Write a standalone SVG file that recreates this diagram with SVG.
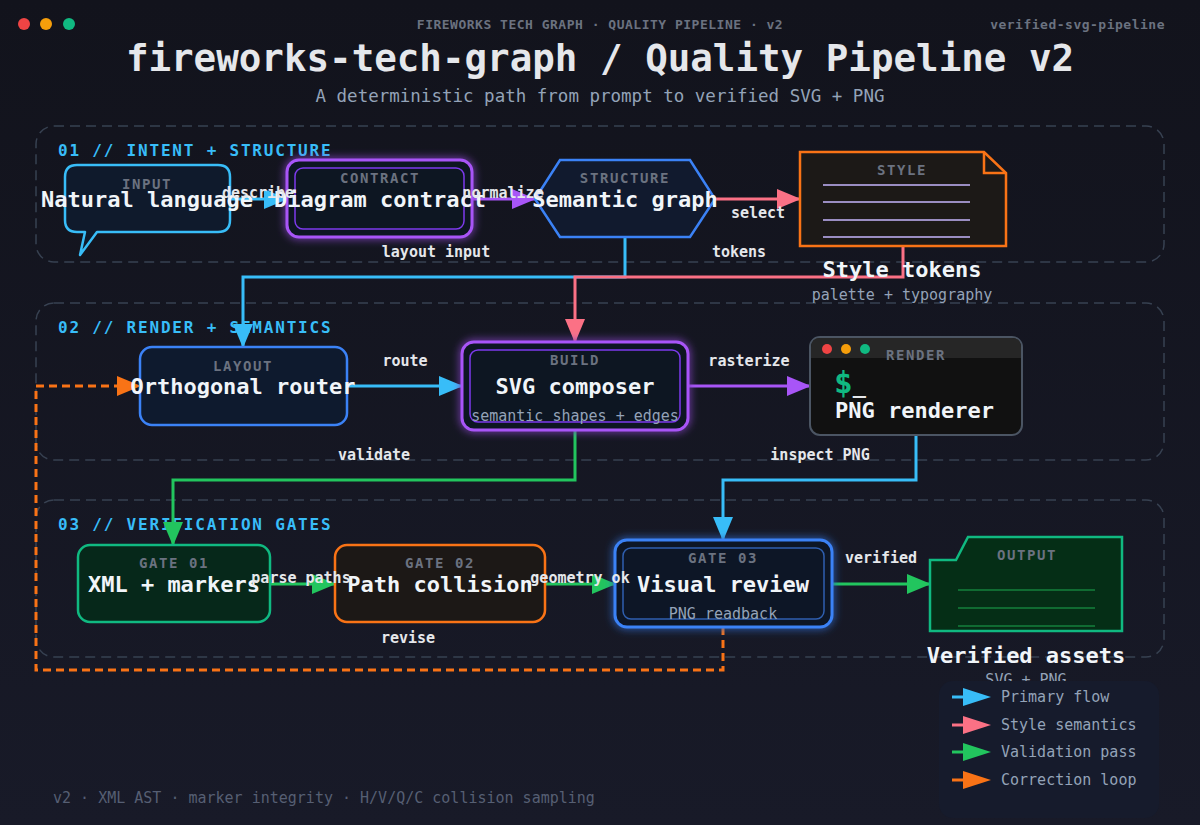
<svg xmlns="http://www.w3.org/2000/svg" width="1200" height="825" viewBox="0 0 1200 825">
<defs>
<linearGradient id="bg" x1="0" y1="0" x2="0" y2="1">
<stop offset="0" stop-color="#12131c"/>
<stop offset="1" stop-color="#181a28"/>
</linearGradient>
<filter id="glow" x="-20%" y="-30%" width="140%" height="160%">
<feGaussianBlur in="SourceGraphic" stdDeviation="4" result="b"/>
<feMerge><feMergeNode in="b"/><feMergeNode in="SourceGraphic"/></feMerge>
</filter>
<marker id="aBlue" viewBox="0 0 24 20" markerWidth="24" markerHeight="20" refX="23" refY="10" orient="auto" markerUnits="userSpaceOnUse"><path d="M0,0 L24,10 L0,20 Z" fill="#38bdf8"/></marker>
<marker id="aPurple" viewBox="0 0 24 20" markerWidth="24" markerHeight="20" refX="23" refY="10" orient="auto" markerUnits="userSpaceOnUse"><path d="M0,0 L24,10 L0,20 Z" fill="#a855f7"/></marker>
<marker id="aPink" viewBox="0 0 24 20" markerWidth="24" markerHeight="20" refX="23" refY="10" orient="auto" markerUnits="userSpaceOnUse"><path d="M0,0 L24,10 L0,20 Z" fill="#fb7185"/></marker>
<marker id="aGreen" viewBox="0 0 24 20" markerWidth="24" markerHeight="20" refX="23" refY="10" orient="auto" markerUnits="userSpaceOnUse"><path d="M0,0 L24,10 L0,20 Z" fill="#22c55e"/></marker>
<marker id="aOrange" viewBox="0 0 24 20" markerWidth="24" markerHeight="20" refX="23" refY="10" orient="auto" markerUnits="userSpaceOnUse"><path d="M0,0 L24,10 L0,20 Z" fill="#f97316"/></marker>
</defs>
<style>
text{font-family:"DejaVu Sans Mono","Liberation Mono",monospace;}
.hdr{font-size:13px;font-weight:bold;fill:#6b7280;letter-spacing:0.5px;}
.title{font-size:37.5px;font-weight:bold;fill:#e5e7eb;}
.sub{font-size:17.5px;fill:#94a3b8;}
.sec{fill:none;stroke:#374151;stroke-width:1.5;stroke-dasharray:10 6;}
.seclbl{font-size:16px;font-weight:bold;fill:#38bdf8;letter-spacing:1.8px;}
.cat{font-size:14px;font-weight:bold;fill:#6b7280;letter-spacing:1.6px;text-anchor:middle;}
.main{font-size:22px;font-weight:bold;fill:#f1f5f9;text-anchor:middle;}
.note{font-size:15px;fill:#94a3b8;text-anchor:middle;}
.elbl{font-size:15px;font-weight:bold;fill:#e5e7eb;text-anchor:middle;}
.edge{fill:none;stroke-width:3;}
.leg{font-size:15px;fill:#94a3b8;}
</style>
<rect x="0" y="0" width="1200" height="825" fill="url(#bg)"/>
<g id="header">
<circle cx="24" cy="24" r="6" fill="#ef4444"/>
<circle cx="46" cy="24" r="6" fill="#f59e0b"/>
<circle cx="69" cy="24" r="6" fill="#10b981"/>
<text class="hdr" x="600" y="29" text-anchor="middle">FIREWORKS TECH GRAPH · QUALITY PIPELINE · v2</text>
<text class="hdr" x="1165" y="29" text-anchor="end">verified-svg-pipeline</text>
<text class="title" x="600" y="71" text-anchor="middle">fireworks-tech-graph / Quality Pipeline v2</text>
<text class="sub" x="600" y="102" text-anchor="middle">A deterministic path from prompt to verified SVG + PNG</text>
</g>
<g id="sections">
<rect class="sec" x="36" y="126" width="1128" height="136" rx="18"/>
<rect class="sec" x="36" y="303" width="1128" height="157" rx="18"/>
<rect class="sec" x="36" y="500" width="1128" height="157" rx="18"/>
<text class="seclbl" x="58" y="156">01 // INTENT + STRUCTURE</text>
<text class="seclbl" x="58" y="333">02 // RENDER + SEMANTICS</text>
<text class="seclbl" x="58" y="530">03 // VERIFICATION GATES</text>
</g>
<g id="connectors">
<path class="edge" stroke="#38bdf8" d="M230,199 L287,199" marker-end="url(#aBlue)"/>
<path class="edge" stroke="#a855f7" d="M472,199 L535,199" marker-end="url(#aPurple)"/>
<path class="edge" stroke="#fb7185" d="M715,199 L800,199" marker-end="url(#aPink)"/>
<path class="edge" stroke="#38bdf8" d="M625,237 L625,277 L243,277 L243,347" marker-end="url(#aBlue)"/>
<path class="edge" stroke="#fb7185" d="M903,246 L903,277 L575,277 L575,342" marker-end="url(#aPink)"/>
<path class="edge" stroke="#38bdf8" d="M347,386 L462,386" marker-end="url(#aBlue)"/>
<path class="edge" stroke="#a855f7" d="M688,386 L810,386" marker-end="url(#aPurple)"/>
<path class="edge" stroke="#22c55e" d="M575,430 L575,480 L173,480 L173,545" marker-end="url(#aGreen)"/>
<path class="edge" stroke="#38bdf8" d="M916,435 L916,480 L723,480 L723,540" marker-end="url(#aBlue)"/>
<path class="edge" stroke="#22c55e" d="M270,584 L335,584" marker-end="url(#aGreen)"/>
<path class="edge" stroke="#22c55e" d="M545,584 L615,584" marker-end="url(#aGreen)"/>
<path class="edge" stroke="#22c55e" d="M832,584 L930,584" marker-end="url(#aGreen)"/>
<path class="edge" stroke="#f97316" stroke-dasharray="8 5" d="M723,627 L723,670 L36,670 L36,386 L140,386" marker-end="url(#aOrange)"/>
</g>
<g id="node-input">
<path d="M77,165 L218,165 Q230,165 230,177 L230,220 Q230,232 218,232 L97,232 L80,255 L85,232 L77,232 Q65,232 65,220 L65,177 Q65,165 77,165 Z" fill="#0f1a2c" stroke="#38bdf8" stroke-width="2.5" stroke-linejoin="round"/>
<text class="cat" x="147" y="189">INPUT</text>
<text class="main" x="147" y="207">Natural language</text>
</g>
<g id="node-contract">
<rect x="287" y="160" width="185" height="77" rx="12" fill="#0f1424" stroke="#a855f7" stroke-width="3" filter="url(#glow)"/>
<rect x="295" y="168" width="169" height="61" rx="8" fill="none" stroke="#7c3aed" stroke-width="1.5"/>
<text class="cat" x="380" y="183">CONTRACT</text>
<text class="main" x="380" y="207">Diagram contract</text>
</g>
<g id="node-structure">
<polygon points="560,160 690,160 715,199 690,237 560,237 535,199" fill="#111a2e" stroke="#3b82f6" stroke-width="2.5"/>
<text class="cat" x="625" y="183">STRUCTURE</text>
<text class="main" x="625" y="207">Semantic graph</text>
</g>
<g id="node-style">
<path d="M800,152 L984,152 L1006,173 L1006,246 L800,246 Z" fill="#1c1917" stroke="#f97316" stroke-width="2.5"/>
<path d="M984,152 L984,173 L1006,173" fill="none" stroke="#f97316" stroke-width="2.5"/>
<text class="cat" x="902" y="175">STYLE</text>
<g stroke="#c4b5fd" stroke-width="1.5">
<line x1="823" y1="185" x2="970" y2="185"/>
<line x1="823" y1="202" x2="970" y2="202"/>
<line x1="823" y1="220" x2="970" y2="220"/>
<line x1="823" y1="237" x2="970" y2="237"/>
</g>
<text class="main" x="902" y="277">Style tokens</text>
<text class="note" x="902" y="300">palette + typography</text>
</g>
<g id="node-layout">
<rect x="140" y="347" width="207" height="78" rx="12" fill="#0e1a2e" stroke="#3b82f6" stroke-width="2.5"/>
<text class="cat" x="243" y="371">LAYOUT</text>
<text class="main" x="243" y="394">Orthogonal router</text>
</g>
<g id="node-build">
<rect x="462" y="342" width="226" height="88" rx="12" fill="#0e1424" stroke="#a855f7" stroke-width="3" filter="url(#glow)"/>
<rect x="470" y="350" width="210" height="72" rx="8" fill="none" stroke="#7c3aed" stroke-width="1.5"/>
<text class="cat" x="575" y="365">BUILD</text>
<text class="main" x="575" y="394">SVG composer</text>
<text class="note" x="575" y="421">semantic shapes + edges</text>
</g>
<g id="node-render">
<rect x="810" y="337" width="212" height="98" rx="10" fill="#111111" stroke="#4b5563" stroke-width="2"/>
<path d="M811,358 L811,347 Q811,338 820,338 L1012,338 Q1021,338 1021,347 L1021,358 Z" fill="#262626"/>
<circle cx="827" cy="349" r="5" fill="#ef4444"/>
<circle cx="846" cy="349" r="5" fill="#f59e0b"/>
<circle cx="865" cy="349" r="5" fill="#10b981"/>
<text class="cat" x="916" y="360">RENDER</text>
<text x="834" y="393" font-size="31" font-weight="bold" fill="#10b981">$<tspan font-size="22" fill="#e5e7eb">_</tspan></text>
<text x="835" y="418" font-size="22" font-weight="bold" fill="#f1f5f9">PNG renderer</text>
</g>
<g id="node-gate01">
<rect x="78" y="545" width="192" height="77" rx="12" fill="#06281a" stroke="#10b981" stroke-width="2.5"/>
<text class="cat" x="174" y="568">GATE 01</text>
<text class="main" x="174" y="592">XML + markers</text>
</g>
<g id="node-gate02">
<rect x="335" y="545" width="210" height="77" rx="12" fill="#1c1816" stroke="#f97316" stroke-width="2.5"/>
<text class="cat" x="440" y="568">GATE 02</text>
<text class="main" x="440" y="592">Path collision</text>
</g>
<g id="node-gate03">
<rect x="615" y="540" width="217" height="87" rx="12" fill="#0c1628" stroke="#3b82f6" stroke-width="3" filter="url(#glow)"/>
<rect x="623" y="548" width="201" height="71" rx="8" fill="none" stroke="#2f5fb0" stroke-width="1.5"/>
<text class="cat" x="723" y="563">GATE 03</text>
<text class="main" x="723" y="592">Visual review</text>
<text class="note" x="723" y="619">PNG readback</text>
</g>
<g id="node-output">
<path d="M930,560 L956,560 L968,537 L1122,537 L1122,631 L930,631 Z" fill="#052e16" stroke="#10b981" stroke-width="2.5"/>
<text class="cat" x="1027" y="560">OUTPUT</text>
<g stroke="#15803d" stroke-width="1.5">
<line x1="958" y1="590" x2="1095" y2="590"/>
<line x1="958" y1="608" x2="1095" y2="608"/>
<line x1="958" y1="626" x2="1095" y2="626"/>
</g>
<text class="main" x="1026" y="663">Verified assets</text>
<text class="note" x="1026" y="685">SVG + PNG</text>
</g>
<g id="edge-labels">
<text class="elbl" x="258" y="198">describe</text>
<text class="elbl" x="503" y="198">normalize</text>
<text class="elbl" x="758" y="218">select</text>
<text class="elbl" x="436" y="257">layout input</text>
<text class="elbl" x="739" y="257">tokens</text>
<text class="elbl" x="405" y="366">route</text>
<text class="elbl" x="749" y="366">rasterize</text>
<text class="elbl" x="374" y="460">validate</text>
<text class="elbl" x="820" y="460">inspect PNG</text>
<text class="elbl" x="301" y="583">parse paths</text>
<text class="elbl" x="580" y="583">geometry ok</text>
<text class="elbl" x="881" y="563">verified</text>
<text class="elbl" x="408" y="643">revise</text>
</g>
<g id="legend">
<rect x="939" y="681" width="220" height="137" rx="14" fill="#161b2c"/>
<line x1="952" y1="697" x2="966" y2="697" stroke="#38bdf8" stroke-width="3"/>
<path d="M963,688 L991,697 L963,706 Z" fill="#38bdf8"/>
<text class="leg" x="1001" y="702">Primary flow</text>
<line x1="952" y1="725" x2="966" y2="725" stroke="#fb7185" stroke-width="3"/>
<path d="M963,716 L991,725 L963,734 Z" fill="#fb7185"/>
<text class="leg" x="1001" y="730">Style semantics</text>
<line x1="952" y1="752" x2="966" y2="752" stroke="#22c55e" stroke-width="3"/>
<path d="M963,743 L991,752 L963,761 Z" fill="#22c55e"/>
<text class="leg" x="1001" y="757">Validation pass</text>
<line x1="952" y1="780" x2="966" y2="780" stroke="#f97316" stroke-width="3"/>
<path d="M963,771 L991,780 L963,789 Z" fill="#f97316"/>
<text class="leg" x="1001" y="785">Correction loop</text>
</g>
<text x="53" y="803" font-size="15" fill="#565f73">v2 · XML AST · marker integrity · H/V/Q/C collision sampling</text>
</svg>
